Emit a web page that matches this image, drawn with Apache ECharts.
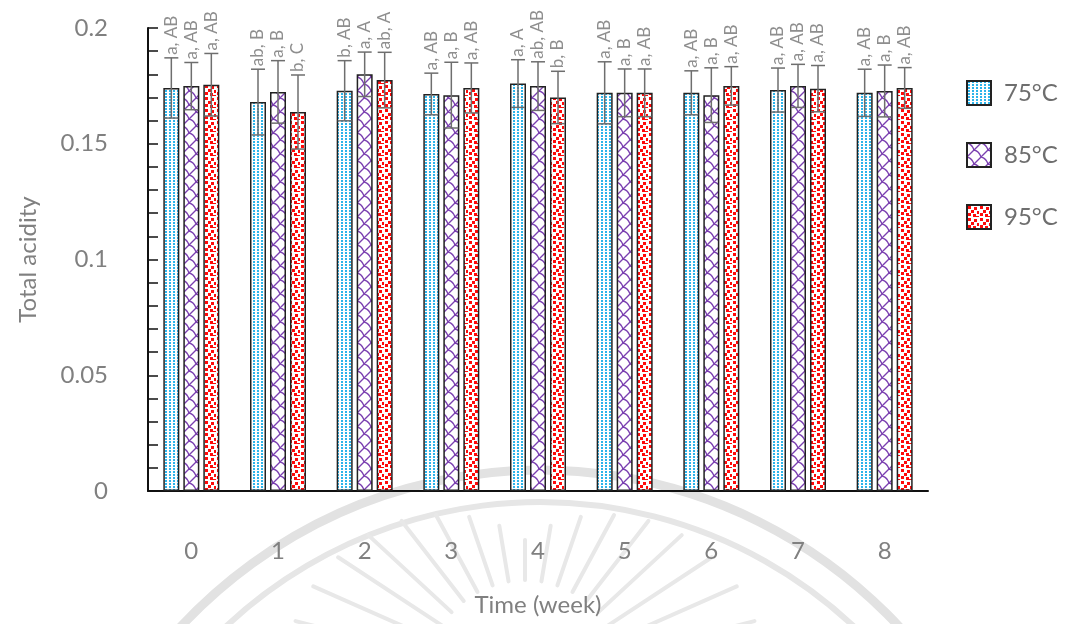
<!DOCTYPE html>
<html><head><meta charset="utf-8">
<script src="https://cdn.jsdelivr.net/npm/echarts@6/dist/echarts.min.js"></script>
<style>html,body{margin:0;padding:0;background:#fff}#c{width:1066px;height:624px}</style>
</head><body><div id="c"></div>
<script>
const weeks = ['0','1','2','3','4','5','6','7','8'];
const names = ['75°C','85°C','95°C'];
const mean75 = [0.1741,0.1680,0.1729,0.1715,0.1760,0.1720,0.1720,0.1732,0.1720];
const mean85 = [0.1749,0.1724,0.1800,0.1710,0.1749,0.1720,0.1710,0.1750,0.1728];
const mean95 = [0.1755,0.1637,0.1775,0.1741,0.1700,0.1720,0.1750,0.1738,0.1741];
const sd75 = [0.0130,0.0142,0.0130,0.0090,0.0103,0.0134,0.0095,0.0095,0.0102];
const sd85 = [0.0102,0.0135,0.0096,0.0142,0.0105,0.0103,0.0118,0.0093,0.0112];
const sd95 = [0.0135,0.0160,0.0120,0.0108,0.0113,0.0103,0.0083,0.0100,0.0088];
const lab75 = ['a, AB','ab, B','b, AB','a, AB','a, A','a, AB','a, AB','a, AB','a, AB'];
const lab85 = ['a, AB','a, B','a, A','a, B','ab, AB','a, B','a, B','a, AB','a, B'];
const lab95 = ['a, AB','b, C','ab, A','a, AB','b, B','a, AB','a, AB','a, AB','a, AB'];

function mk(w,h,draw){const c=document.createElement('canvas');c.width=w;c.height=h;const g=c.getContext('2d');g.fillStyle='#fff';g.fillRect(0,0,w,h);draw(g);return {image:c,repeat:'repeat'};}
const pat75 = mk(4,3,g=>{g.fillStyle='#2db4ea';g.fillRect(1,0,2,2);});
const pat85 = mk(14,14,g=>{g.strokeStyle='#7a3fb0';g.lineWidth=1.3;g.beginPath();g.moveTo(0,14);g.lineTo(14,0);g.stroke();
  g.beginPath();g.moveTo(7,7);g.quadraticCurveTo(12,8,14,14);g.stroke();g.beginPath();g.moveTo(0,0);g.quadraticCurveTo(5,1,7,7);g.stroke();
  g.fillStyle='#7a3fb0';g.fillRect(6,6,2,2);g.fillRect(0,13,1,1);g.fillRect(13,0,1,1);});
const pat95 = mk(12,12,g=>{g.fillStyle='#ff0a0a';[[1,1],[7,2],[4,5],[10,6],[1,8],[6,9],[9,11]].forEach(p=>g.fillRect(p[0],p[1],3,3));});

function barS(name,data,pat){return {type:'bar',name,data,barWidth:16,barGap:'25%',xAxisIndex:0,
  itemStyle:{color:pat,borderColor:'#222',borderWidth:1.5}};}
function errS(key,means,sds,labels,offset){
  return {type:'custom',name:'err'+key,xAxisIndex:0,z:5,silent:true,
    data:means.map((m,i)=>[i,m,sds[i]]),encode:{x:0,y:1},
    renderItem(params,api){
      const i=api.value(0),m=api.value(1),sd=api.value(2);
      const c=api.coord([i,m]);const x=c[0]+offset;
      const yt=api.coord([i,m+sd])[1],yb=api.coord([i,m-sd])[1];
      const st={stroke:'#6e6e6e',lineWidth:1.5};const hw=7;
      return {type:'group',children:[
        {type:'line',shape:{x1:x,y1:yt,x2:x,y2:yb},style:st},
        {type:'line',shape:{x1:x-hw,y1:yt,x2:x+hw,y2:yt},style:st},
        {type:'line',shape:{x1:x-hw,y1:yb,x2:x+hw,y2:yb},style:st},
        {type:'text',x:x,y:yt-3,rotation:Math.PI/2,style:{text:labels[params.dataIndex],align:'left',verticalAlign:'middle',fill:'#8e8e8e',font:'17px Lato'}}
      ]};
    }};
}
const wm=[];
wm.push({type:'arc',shape:{cx:540,cy:960,r:490,startAngle:Math.PI*1.05,endAngle:Math.PI*1.95},style:{stroke:'#e2e2e2',lineWidth:9,fill:null},z:-10,silent:true});
wm.push({type:'arc',shape:{cx:540,cy:960,r:458,startAngle:Math.PI*1.08,endAngle:Math.PI*1.92},style:{stroke:'#e6e6e6',lineWidth:6,fill:null},z:-10,silent:true});
for(let k=0;k<=16;k++){const a=Math.PI*(1.08+k*0.0525);const r1=100,r2=140+100*Math.abs(Math.cos(a));
  wm.push({type:'line',shape:{x1:525+r1*Math.cos(a),y1:680+r1*Math.sin(a),x2:525+r2*Math.cos(a),y2:680+r2*Math.sin(a)},style:{stroke:'#e8e8e8',lineWidth:4,lineCap:'round'},z:-10,silent:true});}

const chart=echarts.init(document.getElementById('c'));
const font='Lato';
chart.setOption({
  animation:false,
  graphic:wm,
  grid:{left:148,right:138,top:28,bottom:133,containLabel:false,outerBoundsMode:'none'},
  legend:{data:names,orient:'vertical',left:966,top:80,itemWidth:24,itemHeight:24,itemGap:36,icon:'rect',padding:0,
    textStyle:{fontSize:24,color:'#6e6e6e',fontFamily:font,padding:[0,0,0,8]}},
  xAxis:[{type:'category',data:weeks,name:'Time (week)',nameLocation:'middle',nameGap:102,
    nameTextStyle:{fontSize:24,color:'#808080',fontFamily:font},
    axisLine:{lineStyle:{color:'#111',width:2}},
    axisTick:{inside:true,length:11,lineStyle:{color:'#111',width:1.5}},
    axisLabel:{margin:48,fontSize:24,color:'#808080',fontFamily:font}},
   {type:'category',data:weeks,position:'bottom',gridIndex:0,axisLine:{show:false},axisLabel:{show:false},
    axisTick:{alignWithLabel:true,inside:true,length:8,lineStyle:{color:'#111',width:1.5}}}],
  yAxis:{type:'value',min:0,max:0.2,interval:0.05,name:'Total acidity',nameLocation:'middle',nameGap:108,nameRotate:90,
    nameTextStyle:{fontSize:24,color:'#808080',fontFamily:font},
    axisLine:{show:true,lineStyle:{color:'#111',width:2}},
    axisTick:{show:true,inside:true,length:10,lineStyle:{color:'#111',width:1.5}},
    minorTick:{show:true,splitNumber:5,length:10,lineStyle:{color:'#111',width:1.5}},
    splitLine:{show:false},
    axisLabel:{margin:40,fontSize:24,color:'#808080',fontFamily:font,formatter:v=>String(+v.toFixed(2))}},
  series:[barS(names[0],mean75,pat75),barS(names[1],mean85,pat85),barS(names[2],mean95,pat95),
    errS('75',mean75,sd75,lab75,-20),errS('85',mean85,sd85,lab85,0),errS('95',mean95,sd95,lab95,20)]
});
</script></body></html>
